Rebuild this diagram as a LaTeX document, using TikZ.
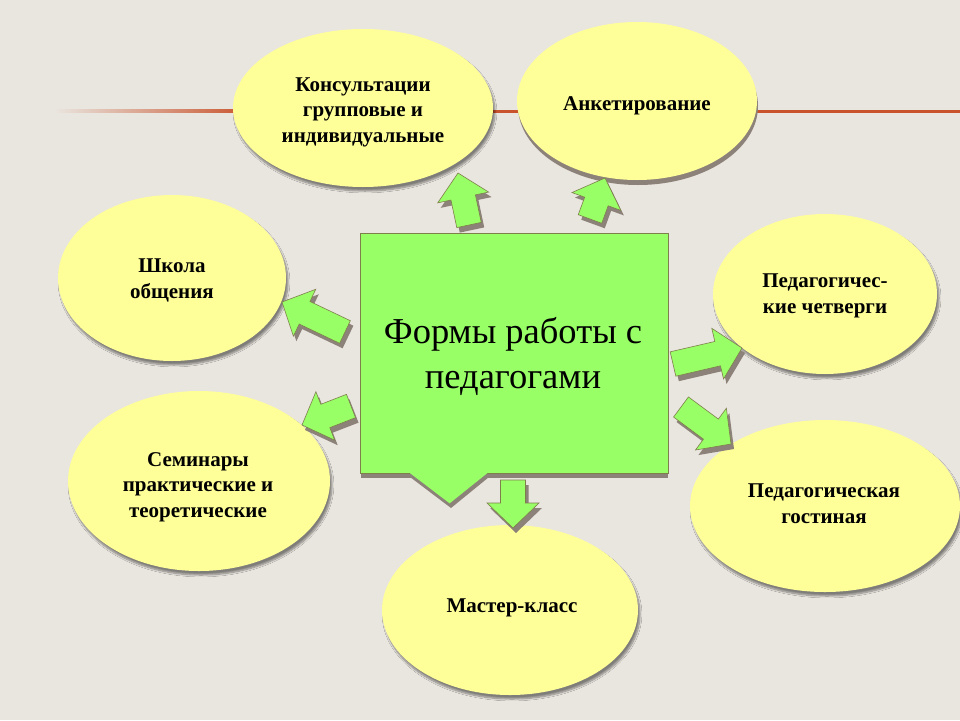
\documentclass[tikz,border=0pt]{standalone}
\usepackage{fontspec}
\setmainfont{Liberation Serif}
\usetikzlibrary{calc,shapes.geometric,shadows,shadows.blur,fadings}
\definecolor{bg}{HTML}{E9E5DF}
\definecolor{ell}{HTML}{FFFF99}
\definecolor{grn}{HTML}{99FF66}
\definecolor{olive}{HTML}{7F7F4C}
\definecolor{shd}{HTML}{8C8279}
\definecolor{rulec}{HTML}{C9532C}
\tikzset{
  bubble/.style={ellipse, fill=ell, inner sep=0pt},
  lbl/.style={anchor=base, inner sep=0pt, align=center,
    font=\bfseries\fontsize{21}{25.5}\selectfont},
  softshadow/.style={blur shadow={shadow xshift=2pt, shadow yshift=-4pt,
    shadow blur steps=8, shadow opacity=45}},
  hardshadow/.style={general shadow={fill=shd, shadow xshift=1pt, shadow yshift=-5pt}},
  bigbox/.style={rectangle, fill=grn, draw=olive, line width=0.7pt,
    minimum width=308pt, minimum height=240pt, inner sep=0pt},
  title/.style={anchor=base, inner sep=0pt, align=center,
    font=\fontsize{36.5}{45}\selectfont},
  arrowfill/.style={fill=grn, draw=olive, line width=0.6pt, line join=miter},
  arrowshadow/.style={fill=shd},
}
\newcommand\arrowpoly[3]{%
  \path[#3] ($(#1)!12.5pt!90:(#2)$) -- ($(#1n)!12.5pt!90:(#2)$)
    -- ($(#1n)!26pt!90:(#2)$) -- (#2) -- ($(#1n)!26pt!-90:(#2)$)
    -- ($(#1n)!12.5pt!-90:(#2)$) -- ($(#1)!12.5pt!-90:(#2)$) -- cycle;}
\newcommand\blockarrow[2]{%
  \coordinate (#1s) at ($(#1)+(3,5)$);
  \coordinate (#2s) at ($(#2)+(3,5)$);
  \coordinate (#1sn) at ($(#2s)!25pt!(#1s)$);
  \coordinate (#1n) at ($(#2)!25pt!(#1)$);
  \arrowpoly{#1s}{#2s}{arrowshadow}
  \arrowpoly{#1}{#2}{arrowfill}}
\begin{document}
\begin{tikzpicture}[x=1pt,y=-1pt]
\fill[bg] (0,0) rectangle (960,720);
\useasboundingbox (0,0) rectangle (960,720);
% top rule
\shade[left color=bg, right color=rulec] (55,109.5) rectangle (250,112.5);
\fill[rulec] (249.5,109.5) rectangle (960,112.5);
% bubbles
\node[bubble, softshadow, minimum width=260pt, minimum height=158pt] (kons) at (363,108) {};
\node[bubble, hardshadow, minimum width=240pt, minimum height=158pt] (anket) at (637,101) {};
\node[bubble, softshadow, minimum width=228pt, minimum height=166pt] (shkola) at (172,278) {};
\node[bubble, softshadow, minimum width=224pt, minimum height=160pt] (chetv) at (825,294) {};
\node[bubble, softshadow, minimum width=262pt, minimum height=180pt] (semin) at (199,481) {};
\node[bubble, softshadow, minimum width=270pt, minimum height=172pt] (gost) at (825,506) {};
\node[bubble, softshadow, minimum width=256pt, minimum height=170pt] (master) at (510,610) {};
\node[lbl] (konsT) at (363,142) {Консультации\\групповые и\\индивидуальные};
\node[lbl] (anketT) at (637,110) {Анкетирование};
\node[lbl] (shkolaT) at (172,298) {Школа\\общения};
\node[lbl] (chetvT) at (825,313) {Педагогичес-\\кие четверги};
\node[lbl] (seminT) at (198,517) {Семинары\\практические и\\теоретические};
\node[lbl] (gostT) at (824,523) {Педагогическая\\гостиная};
\node[lbl] (masterT) at (512,612) {Мастер-класс};
% central box
\fill[shd] (361,240) rectangle (668,478);
\fill[shd] (410,477) -- (451,508) -- (489,477) -- cycle;
\node[bigbox] (box) at (514,353) {};
\fill[grn] ($(box.south west)+(50,-0.5)$) -- ($(box.south west)+(90,30)$) -- ($(box.south west)+(128,-0.5)$) -- cycle;
\node[title] (boxT) at (513,388) {Формы работы с\\педагогами};
% arrows
\coordinate (aA) at (469,225); \coordinate (bA) at (458,173);
\coordinate (aB) at (590,219); \coordinate (bB) at (605,178);
\coordinate (aC) at (345,332); \coordinate (bC) at (282,302);
\coordinate (aD) at (351,406); \coordinate (bD) at (302,425);
\coordinate (aE) at (673,364); \coordinate (bE) at (742,348);
\coordinate (aF) at (681,407); \coordinate (bF) at (731,444);
\coordinate (aG) at (513,480); \coordinate (bG) at (513,528);
\blockarrow{aA}{bA}
\blockarrow{aB}{bB}
\blockarrow{aC}{bC}
\blockarrow{aD}{bD}
\blockarrow{aE}{bE}
\blockarrow{aF}{bF}
\blockarrow{aG}{bG}
\end{tikzpicture}
\end{document}
